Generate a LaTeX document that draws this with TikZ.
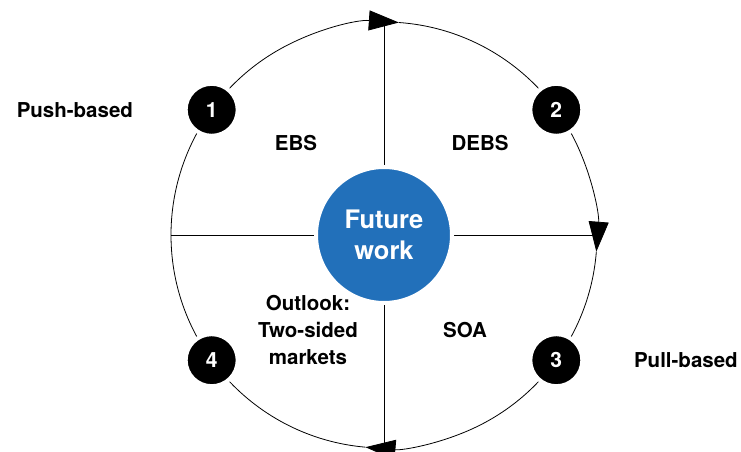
\documentclass[tikz,border=0pt]{standalone}
\usepackage{fontspec}
\setmainfont{TeX Gyre Heros}
\usetikzlibrary{positioning, arrows.meta, calc}
\definecolor{futureblue}{RGB}{34,112,186}

\begin{document}
\begin{tikzpicture}[
    x=1pt, y=1pt,
    node distance=47pt,
    every path/.style={line width=0.8pt},
    cycle/.style={-{Triangle[length=30pt, width=20pt]}},
    badge/.style={circle, fill=black, draw=white, line width=4pt,
                  minimum size=52pt, inner sep=0pt, text=white,
                  font=\bfseries\fontsize{21}{24}\selectfont},
    label/.style={font=\bfseries\fontsize{20.5}{27}\selectfont, align=center},
    hub/.style={circle, fill=futureblue, draw=white, line width=4pt,
                minimum size=136pt, inner sep=0pt, text=white, align=center,
                font=\bfseries\fontsize{25.5}{31}\selectfont}
]
\useasboundingbox (0,0) rectangle (741,452);

\coordinate (c) at (384,217);
\coordinate (top) at ($(c)+(90:213)$);
\coordinate (bottom) at ($(c)+(-90:213)$);
\coordinate (west) at ($(c)+(180:213)$);
\coordinate (east) at ($(c)+(0:213)$);

% the cycle, clockwise
\draw[cycle] (west) arc[start angle=180, end angle=86, radius=213];
\draw[cycle] ($(c)+(86:213)$) arc[start angle=86, end angle=-4.5, radius=213];
\draw[cycle] ($(c)+(-4.5:213)$) arc[start angle=-4.5, end angle=-95, radius=213];
\draw ($(c)+(-95:213)$) arc[start angle=-95, end angle=-180, radius=213];

% quadrants
\draw (west) -- (east);
\draw (top) -- (bottom);

\node[hub] (fw) at (c) {Future\\work};

\node[badge] (n1) at ($(c)+(144:213)$) {1};
\node[badge] (n2) at ($(c)+(36:213)$) {2};
\node[badge] (n3) at ($(c)+(-36:213)$) {3};
\node[badge] (n4) at ($(c)+(-144:213)$) {4};

\node[label] (ebs) at (296,309) {EBS};
\node[label] (debs) at (480,309) {DEBS};
\node[label] (soa) at (465,122) {SOA};
\node[label] (outlook) at (308,122) {Outlook:\\Two-sided\\markets};

\node[label, left=of n1] (push) {Push-based};
\node[label, right=46pt of n3] (pull) {Pull-based};

\end{tikzpicture}
\end{document}
